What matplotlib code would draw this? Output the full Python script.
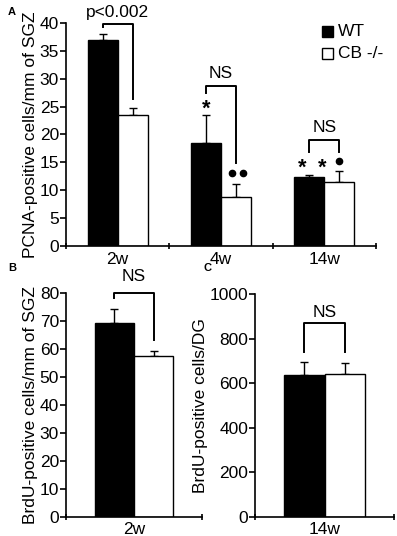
import matplotlib
matplotlib.use("Agg")
import matplotlib.pyplot as plt
import numpy as np

plt.rcParams['font.family'] = ['Liberation Sans', 'DejaVu Sans']

# Panel A data
weeks_a = ["2w", "4w", "14w"]
wt_a = [37.0, 18.5, 12.4]
wt_a_err = [1.0, 5.0, 0.25]
cb_a = [23.5, 8.8, 11.5]
cb_a_err = [1.3, 2.3, 2.0]
yticks_a = [0, 5, 10, 15, 20, 25, 30, 35, 40]

# Panel B data
weeks_b = ["2w"]
wt_b = [69.5]
wt_b_err = [4.7]
cb_b = [57.7]
cb_b_err = [1.6]
yticks_b = [0, 10, 20, 30, 40, 50, 60, 70, 80]

# Panel C data
weeks_c = ["14w"]
wt_c = [638]
wt_c_err = [55]
cb_c = [643]
cb_c_err = [45]
yticks_c = [0, 200, 400, 600, 800, 1000]

W, H = 397, 536
fig = plt.figure(figsize=(W/100, H/100), dpi=100)

def ax_rect(l, r, b, t):
    return [l/W, 1-b/H, (r-l)/W, (b-t)/H]

FS = 12.5
bw = 0.29
off = 0.145

def style(ax, n, ymax, yticks, cats):
    ax.set_xlim(-0.5, n-0.5)
    ax.set_ylim(0, ymax)
    for s in ['top', 'right']:
        ax.spines[s].set_visible(False)
    ax.spines['left'].set_linewidth(1.2)
    ax.spines['bottom'].set_linewidth(1.2)
    ax.set_yticks(yticks)
    ax.set_yticklabels([str(v) for v in yticks], fontsize=FS)
    ax.tick_params(axis='y', direction='out', length=4, width=1.2, pad=1)
    ax.set_xticks(np.arange(n+1)-0.5)
    ax.set_xticklabels([''] * (n+1))
    ax.set_xticks(np.arange(n), minor=True)
    ax.set_xticklabels(cats, minor=True, fontsize=FS)
    ax.tick_params(axis='x', which='major', direction='inout', length=5, width=1.2)
    ax.tick_params(axis='x', which='minor', length=0, pad=4)

def bars(ax, wt, wte, cb, cbe):
    x = np.arange(len(wt))
    ax.bar(x-off, wt, bw, color='black', edgecolor='black', linewidth=1, zorder=2)
    ax.bar(x+off, cb, bw, color='white', edgecolor='black', linewidth=1, zorder=2)
    ax.errorbar(x-off, wt, yerr=[np.zeros(len(wt)), wte], fmt='none', ecolor='black', elinewidth=1, capsize=3, capthick=1, zorder=1)
    ax.errorbar(x+off, cb, yerr=[np.zeros(len(cb)), cbe], fmt='none', ecolor='black', elinewidth=1, capsize=3, capthick=1, zorder=1)

def bracket(ax, x1, x2, ytop, y1, y2, text, ty):
    ax.plot([x1, x1, x2, x2], [y1, ytop, ytop, y2], color='black', lw=1.4, clip_on=False, zorder=3)
    ax.text((x1+x2)/2, ty, text, ha='center', va='center', fontsize=FS, clip_on=False)

# Panel A
axA = fig.add_axes(ax_rect(66, 376, 246, 23))
style(axA, 3, 40, yticks_a, weeks_a)
bars(axA, wt_a, wt_a_err, cb_a, cb_a_err)
axA.set_ylabel("PCNA-positive cells/mm of SGZ", fontsize=FS, labelpad=1)
bracket(axA, -off, off, 39.8, 39.3, 26.4, "p<0.002", 41.9)
bracket(axA, 1-off, 1+off, 28.7, 27.4, 14.9, "NS", 31.0)
bracket(axA, 2-off, 2+off, 19.0, 16.9, 16.9, "NS", 21.2)
axA.text(1-off, 24.6, "*", ha='center', va='center', fontsize=FS+3, fontweight='bold')
axA.text(2-0.216, 13.9, "*", ha='center', va='center', fontsize=FS+3, fontweight='bold')
axA.text(2-0.022, 13.9, "*", ha='center', va='center', fontsize=FS+3, fontweight='bold')
axA.plot([2+off], [15.2], 'o', color='black', ms=4.5, clip_on=False)
axA.plot([1+0.106, 1+0.213], [13.1, 13.1], 'o', color='black', ms=4.5, clip_on=False)

# legend
fig.patches.append(plt.Rectangle((322/W, 1-37/H), 11/W, 11/H, facecolor='black', edgecolor='black', lw=1, transform=fig.transFigure))
fig.patches.append(plt.Rectangle((322/W, 1-59/H), 11/W, 11/H, facecolor='white', edgecolor='black', lw=1, transform=fig.transFigure))
fig.text(338/W, 1-31.5/H, "WT", fontsize=FS, va='center', ha='left')
fig.text(338/W, 1-53.5/H, "CB -/-", fontsize=FS, va='center', ha='left')

# Panel B
axB = fig.add_axes(ax_rect(66, 202, 516.7, 293.3))
style(axB, 1, 80, yticks_b, weeks_b)
bars(axB, wt_b, wt_b_err, cb_b, cb_b_err)
axB.set_ylabel("BrdU-positive cells/mm of SGZ", fontsize=FS, labelpad=1)
bracket(axB, -off, off, 80.2, 78.3, 63.3, "NS", 86.0)

# Panel C
axC = fig.add_axes(ax_rect(255, 394, 516.7, 294))
style(axC, 1, 1000, yticks_c, weeks_c)
bars(axC, wt_c, wt_c_err, cb_c, cb_c_err)
axC.set_ylabel("BrdU-positive cells/DG", fontsize=FS, labelpad=1)
bracket(axC, -off, off, 868, 741, 741, "NS", 917)

fig.text(12/W, 1-12/H, "A", fontsize=8, fontweight='bold', ha='center', va='center')
fig.text(12/W, 1-268/H, "B", fontsize=8, fontweight='bold', ha='center', va='center')
fig.text(208/W, 1-268/H, "C", fontsize=8, fontweight='bold', ha='center', va='center')

fig.savefig("out.png", dpi=100)
